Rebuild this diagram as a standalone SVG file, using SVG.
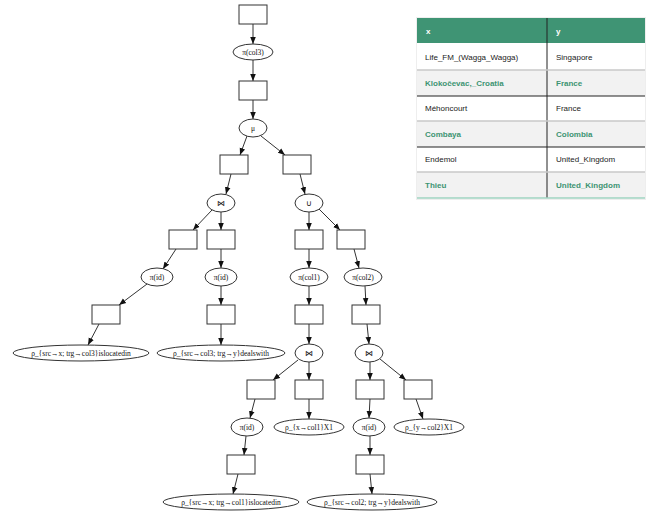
<svg xmlns="http://www.w3.org/2000/svg" width="647" height="513" viewBox="0 0 647 513">
<style>
.b{fill:#fff;stroke:#333;stroke-width:1}
.e{fill:#fff;stroke:#333;stroke-width:1}
.t{font-family:"Liberation Serif",serif;font-size:7.5px;fill:#111;text-anchor:middle;dominant-baseline:central}
.c line{stroke:#333;stroke-width:1;marker-end:url(#a)}
.tt{font-family:"Liberation Sans",Arial,sans-serif;font-size:8px;dominant-baseline:central}
.n{fill:#222}
.g{fill:#3d9472;font-weight:bold}
.h{fill:#fff;font-weight:bold}
</style>
<defs>
<marker id="a" markerWidth="7" markerHeight="7" refX="7" refY="3.5" orient="auto" markerUnits="userSpaceOnUse">
<path d="M0,0.7 L7,3.5 L0,6.3 Z" fill="#111"/>
</marker>
</defs>
<rect width="647" height="513" fill="#fff"/>
<g class="c">
<line x1="253" y1="24" x2="253" y2="44"/>
<line x1="253" y1="60" x2="253" y2="81"/>
<line x1="253" y1="100" x2="253" y2="119"/>
<line x1="247" y1="136" x2="240" y2="155"/>
<line x1="261" y1="136" x2="285" y2="155"/>
<line x1="231" y1="174" x2="226" y2="194"/>
<line x1="300" y1="174" x2="305" y2="194"/>
<line x1="212" y1="210" x2="193" y2="230"/>
<line x1="221" y1="212" x2="221" y2="230"/>
<line x1="309" y1="212" x2="309" y2="230"/>
<line x1="319" y1="209" x2="340" y2="230"/>
<line x1="176" y1="249" x2="163" y2="269"/>
<line x1="221" y1="249" x2="221" y2="268"/>
<line x1="309" y1="249" x2="309" y2="268"/>
<line x1="354" y1="249" x2="359" y2="268"/>
<line x1="147" y1="284" x2="119" y2="305"/>
<line x1="221" y1="286" x2="221" y2="305"/>
<line x1="309" y1="286" x2="309" y2="305"/>
<line x1="365" y1="286" x2="366" y2="305"/>
<line x1="99" y1="324" x2="88" y2="345"/>
<line x1="221" y1="324" x2="221" y2="345"/>
<line x1="309" y1="324" x2="309" y2="344"/>
<line x1="367" y1="324" x2="369" y2="344"/>
<line x1="298" y1="360" x2="273" y2="380"/>
<line x1="309" y1="362" x2="309" y2="380"/>
<line x1="370" y1="362" x2="370" y2="380"/>
<line x1="380" y1="359" x2="406" y2="380"/>
<line x1="255" y1="399" x2="250" y2="418"/>
<line x1="309" y1="399" x2="309" y2="419"/>
<line x1="370" y1="399" x2="369" y2="418"/>
<line x1="416" y1="399" x2="423" y2="419"/>
<line x1="246" y1="436" x2="244" y2="455"/>
<line x1="370" y1="436" x2="370" y2="455"/>
<line x1="238" y1="474" x2="233" y2="494"/>
<line x1="370" y1="474" x2="372" y2="494"/>
</g>
<g id="b0"><rect class="b" x="239" y="5" width="28" height="19"/></g>
<g id="e0"><ellipse class="e" cx="253" cy="52" rx="20" ry="8"/><text class="t" x="253" y="52">π(col3)</text></g>
<g id="b1"><rect class="b" x="239" y="81" width="28" height="19"/></g>
<g id="e1"><ellipse class="e" cx="253" cy="128" rx="14" ry="9"/><text class="t" x="253" y="128">μ</text></g>
<g id="b2l"><rect class="b" x="220" y="155" width="28" height="19"/></g>
<g id="b2r"><rect class="b" x="283" y="155" width="28" height="19"/></g>
<g id="e2l"><ellipse class="e" cx="221" cy="203" rx="14" ry="9"/><text class="t" x="221" y="203">⋈</text></g>
<g id="e2r"><ellipse class="e" cx="309" cy="203" rx="14" ry="9"/><text class="t" x="309" y="203">∪</text></g>
<g id="b3a"><rect class="b" x="169" y="230" width="28" height="19"/></g>
<g id="b3b"><rect class="b" x="207" y="230" width="28" height="19"/></g>
<g id="b3c"><rect class="b" x="295" y="230" width="28" height="19"/></g>
<g id="b3d"><rect class="b" x="337" y="230" width="28" height="19"/></g>
<g id="e3a"><ellipse class="e" cx="157" cy="277" rx="16" ry="9"/><text class="t" x="157" y="277">π(id)</text></g>
<g id="e3b"><ellipse class="e" cx="221" cy="277" rx="16" ry="9"/><text class="t" x="221" y="277">π(id)</text></g>
<g id="e3c"><ellipse class="e" cx="309" cy="277" rx="19" ry="9"/><text class="t" x="309" y="277">π(col1)</text></g>
<g id="e3d"><ellipse class="e" cx="363" cy="277" rx="19" ry="9"/><text class="t" x="363" y="277">π(col2)</text></g>
<g id="b4a"><rect class="b" x="92" y="305" width="28" height="19"/></g>
<g id="b4b"><rect class="b" x="207" y="305" width="28" height="19"/></g>
<g id="b4c"><rect class="b" x="295" y="305" width="28" height="19"/></g>
<g id="b4d"><rect class="b" x="352" y="305" width="28" height="19"/></g>
<g id="e4a"><ellipse class="e" cx="81" cy="353" rx="68" ry="8"/><text class="t" x="81" y="353">ρ_{src→x; trg→col3}islocatedin</text></g>
<g id="e4b"><ellipse class="e" cx="221" cy="353" rx="64" ry="8"/><text class="t" x="221" y="353">ρ_{src→col3; trg→y}dealswith</text></g>
<g id="e4c"><ellipse class="e" cx="309" cy="353" rx="14" ry="9"/><text class="t" x="309" y="353">⋈</text></g>
<g id="e4d"><ellipse class="e" cx="369" cy="353" rx="14" ry="9"/><text class="t" x="369" y="353">⋈</text></g>
<g id="b5a"><rect class="b" x="247" y="380" width="28" height="19"/></g>
<g id="b5b"><rect class="b" x="295" y="380" width="28" height="19"/></g>
<g id="b5c"><rect class="b" x="356" y="380" width="28" height="19"/></g>
<g id="b5d"><rect class="b" x="404" y="380" width="28" height="19"/></g>
<g id="e5a"><ellipse class="e" cx="247" cy="427" rx="16" ry="9"/><text class="t" x="247" y="427">π(id)</text></g>
<g id="e5b"><ellipse class="e" cx="309" cy="427" rx="35" ry="8"/><text class="t" x="309" y="427">ρ_{x→col1}X1</text></g>
<g id="e5c"><ellipse class="e" cx="369" cy="427" rx="16" ry="9"/><text class="t" x="369" y="427">π(id)</text></g>
<g id="e5d"><ellipse class="e" cx="429" cy="427" rx="35" ry="8"/><text class="t" x="429" y="427">ρ_{y→col2}X1</text></g>
<g id="b6a"><rect class="b" x="227" y="455" width="28" height="19"/></g>
<g id="b6b"><rect class="b" x="356" y="455" width="28" height="19"/></g>
<g id="e6a"><ellipse class="e" cx="231" cy="502" rx="68" ry="8"/><text class="t" x="231" y="502">ρ_{src→x; trg→col1}islocatedin</text></g>
<g id="e6b"><ellipse class="e" cx="372" cy="502" rx="65" ry="8"/><text class="t" x="372" y="502">ρ_{src→col2; trg→y}dealswith</text></g>
<g id="table">
<rect x="416" y="17" width="230" height="183" fill="#eee"/>
<rect x="417" y="18" width="228" height="181" fill="#fff"/>
<rect x="417" y="18" width="228" height="25" fill="#3f9474"/>
<rect x="417" y="70" width="228" height="26" fill="#f2f2f2"/>
<rect x="417" y="121" width="228" height="26" fill="#f2f2f2"/>
<rect x="417" y="172" width="228" height="26" fill="#f2f2f2"/>
<line x1="547" y1="18" x2="547" y2="198" stroke="#222" stroke-width="1"/>
<line x1="417" y1="70" x2="645" y2="70" stroke="#c8c8c8" stroke-width="1.5"/>
<line x1="417" y1="96" x2="645" y2="96" stroke="#222" stroke-width="1"/>
<line x1="417" y1="121" x2="645" y2="121" stroke="#c8c8c8" stroke-width="1.5"/>
<line x1="417" y1="147" x2="645" y2="147" stroke="#222" stroke-width="1"/>
<line x1="417" y1="172" x2="645" y2="172" stroke="#c8c8c8" stroke-width="1.5"/>
<line x1="417" y1="198" x2="645" y2="198" stroke="#9fd3c0" stroke-width="1.5"/>
<text class="tt h" x="426" y="31">x</text>
<text class="tt h" x="556" y="31">y</text>
<text class="tt n" x="425" y="57">Life_FM_(Wagga_Wagga)</text>
<text class="tt n" x="556" y="57">Singapore</text>
<text class="tt g" x="425" y="83">Klokočevac,_Croatia</text>
<text class="tt g" x="556" y="83">France</text>
<text class="tt n" x="425" y="108">Méhoncourt</text>
<text class="tt n" x="556" y="108">France</text>
<text class="tt g" x="425" y="134">Combaya</text>
<text class="tt g" x="556" y="134">Colombia</text>
<text class="tt n" x="425" y="159">Endemol</text>
<text class="tt n" x="556" y="159">United_Kingdom</text>
<text class="tt g" x="425" y="185">Thieu</text>
<text class="tt g" x="556" y="185">United_Kingdom</text>
</g>
</svg>
